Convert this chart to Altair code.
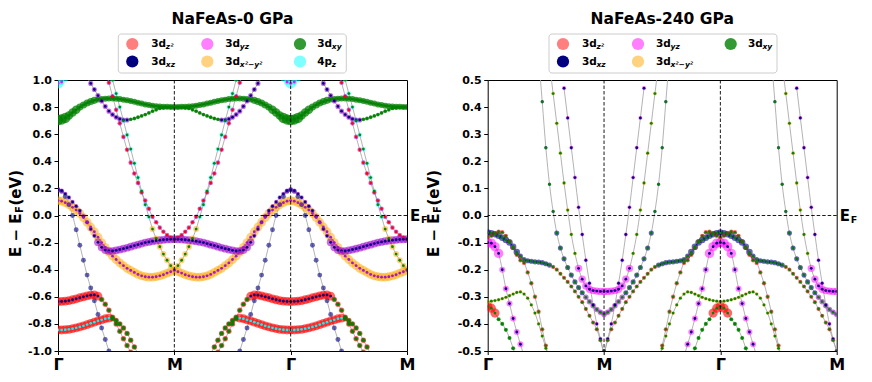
import altair as alt
import pandas as pd

FONT = "DejaVu Sans"
NK = 32          # k-steps per Γ→M segment
W, H = 349, 271  # plot area of each panel

# "xzyz" stands for points where d_xz and d_yz weights overlap equally (drawn purple)
ORB_COLOR = {"z2": "#ff0000", "xz": "#000080", "yz": "#ff00ff", "xzyz": "#a010d0",
             "x2y2": "#ffa500", "xy": "#008000", "pz": "#00ffff"}
ORB_ALPHA = {"z2": 0.6, "xz": 0.6, "yz": 0.5, "xzyz": 0.6, "x2y2": 0.5, "xy": 0.75, "pz": 0.5}
LEG_COLOR = {"z2": "#ff7f7f", "xz": "#000080", "yz": "#ff7fff",
             "x2y2": "#ffd27f", "xy": "#339933", "pz": "#7fffff"}
LEG_MAIN = {"z2": "3d", "xz": "3d", "yz": "3d", "x2y2": "3d", "xy": "3d", "pz": "4p"}
LEG_SUB = {"z2": "z²", "xz": "xz", "yz": "yz", "x2y2": "x²−y²", "xy": "xy", "pz": "z"}

# ---------------- NaFeAs 0 GPa : E(k) on Γ→M, (start index, energies) -------------
L_BANDS = {
    "xy_top": (0, [.705, .709, .72, .738, .76, .78, .80, .816, .83, .841, .85, .856, .86,
                   .862, .863, .863, .862, .859, .855, .85, .845, .839, .832, .826, .82,
                   .815, .81, .807, .805, .803, .802, .801, .80]),
    "xy_low": (7, [1.08, 1.02, .975, .93, .885, .845, .805, .77, .745, .725, .712, .705,
                   .705, .71, .716, .725, .735, .745, .757, .77, .78, .79, .795, .798,
                   .799, .80]),
    "p_yz": (13, [1.08, .98, .88, .78, .68, .58, .485, .39, .31, .24, .17, .11, .05, -.01,
                  -.05, -.09, -.12, -.145, -.162, -.175]),
    "p_pz": (14, [1.10, 1.0, .90, .80, .70, .595, .49, .385, .28, .18, .08, -.01, -.10,
                  -.17, -.23, -.285, -.33, -.37, -.40]),
    "steep": (0, [.19, .178, .14, .08, 0.0, -.105, -.22, -.33, -.44, -.535, -.63, -.73,
                  -.83, -.915, -1.0, -1.08]),
    "xzyz": (0, [.19, .183, .16, .133, .10, .068, .035, -.005, -.05, -.10, -.15, -.198,
                 -.235, -.255, -.262, -.262, -.257, -.251, -.245, -.238, -.23, -.222,
                 -.215, -.207, -.20, -.195, -.19, -.186, -.182, -.179, -.177, -.176, -.175]),
    "x2y2": (0, [.11, .106, .095, .08, .06, .04, .015, -.015, -.05, -.085, -.12, -.16, -.20,
                 -.235, -.27, -.30, -.325, -.35, -.37, -.39, -.405, -.42, -.435, -.445,
                 -.452, -.455, -.455, -.452, -.445, -.437, -.425, -.415, -.405]),
    "z2_up": (0, [-.635, -.634, -.632, -.628, -.622, -.615, -.607, -.60, -.593, -.588,
                  -.586, -.595, -.62, -.655, -.70, -.75, -.80, -.855, -.91, -.96, -1.01,
                  -1.06]),
    "z2_low": (0, [-.845, -.845, -.843, -.84, -.835, -.829, -.822, -.814, -.805, -.796,
                   -.787, -.778, -.77, -.762, -.757, -.762, -.775, -.80, -.83, -.87, -.92,
                   -.97, -1.02, -1.07]),
    "pz_top": (0, [.975, .985, 1.01, 1.05]),
}
# orbital weights drawn as circles: (from index, to index, orbital, weight)
L_HALO = {
    "xy_top": [(0, 2, "xy", .9), (3, 5, "xy", .6), (6, 10, "xy", .42), (11, 32, "xy", .3)],
    "xy_low": [(7, 19, "xzyz", .22), (20, 32, "xy", .12)],
    "p_yz": [(13, 32, "xzyz", .18)],
    "p_pz": [(14, 25, "pz", .18), (26, 32, "x2y2", .3)],
    "steep": [(0, 15, "xz", .2)],
    "xzyz": [(0, 10, "xzyz", .16), (11, 32, "xzyz", .5)],
    "x2y2": [(0, 32, "x2y2", .65)],
    "z2_up": [(0, 11, "z2", .65), (12, 21, "z2", .25), (12, 21, "xy", .14)],
    "z2_low": [(0, 14, "z2", .65), (15, 23, "z2", .25), (15, 23, "xy", .16)],
    "pz_top": [(0, 0, "pz", .9), (1, 3, "pz", .3)],
}
L_CENTER = {
    "xy_top": [(0, 32, "xy")], "xy_low": [(7, 19, "xz"), (20, 32, "xy")],
    "p_yz": [(13, 32, "z2")], "p_pz": [(14, 32, "xy")], "steep": [],
    "xzyz": [(0, 32, "xz")], "x2y2": [(0, 32, "xzyz")],
    "z2_up": [(0, 11, "xz"), (12, 21, "xy")],
    "z2_low": [(0, 14, "pz"), (15, 23, "xy")], "pz_top": [(0, 3, "yz")],
}

# ---------------- NaFeAs 240 GPa -------------
R_BANDS = {
    "b1": (14, [.585, .42, .25, .115, .015, -.065, -.12, -.16, -.192, -.22, -.245, -.266,
                -.285, -.302, -.318, -.333, -.347, -.357, -.365]),
    "b2": (17, [.56, .45, .34, .23, .12, .02, -.07, -.14, -.195, -.235, -.26, -.272, -.277,
                -.279, -.28, -.28]),
    "b3": (21, [.47, .36, .25, .14, .03, -.07, -.165, -.25, -.33, -.40, -.455, -.50]),
    "a1": (0, [-.063, -.065, -.069, -.075, -.082, -.09, -.10, -.115, -.135, -.15, -.163,
               -.167, -.169, -.171, -.172, -.174, -.178, -.183, -.19, -.20, -.215, -.23,
               -.245, -.262, -.28, -.30, -.32, -.345, -.37, -.395, -.42, -.46, -.50]),
    "a2": (0, [-.10, -.102, -.115, -.14, -.20, -.27, -.325, -.38, -.43, -.475, -.52]),
    "a3": (0, [-.08, -.075, -.066, -.06, -.062, -.075, -.095, -.12, -.145, -.165, -.175,
               -.21, -.25, -.30, -.355, -.42, -.48, -.54]),
    "a4": (0, [-.317, -.316, -.314, -.311, -.307, -.302, -.296, -.29, -.284, -.282, -.29,
               -.305, -.33, -.36, -.40, -.445, -.49, -.54]),
    "a5": (0, [-.335, -.342, -.36, -.383, -.40, -.422, -.452, -.49, -.53]),
}
R_HALO = {
    "b1": [(14, 18, "xz", .1), (19, 26, "xz", .22), (27, 32, "xzyz", .25)],
    "b2": [(17, 24, "x2y2", .14), (25, 32, "yz", .45)],
    "b3": [(21, 32, "yz", .14)],
    "a1": [(0, 8, "xz", .35), (9, 17, "xz", .22), (18, 32, "z2", .15)],
    "a2": [(0, 3, "yz", .75), (4, 10, "yz", .3)],
    "a3": [(0, 17, "z2", .16)],
    "a4": [(0, 17, "x2y2", .12)],
    "a5": [(0, 2, "z2", .7), (3, 8, "xy", .14)],
}
R_CENTER = {
    "b1": [(14, 32, "xy")], "b2": [(17, 24, "xy"), (25, 32, "xz")], "b3": [(21, 32, "xz")],
    "a1": [(0, 32, "xy")], "a2": [(0, 10, "xz")], "a3": [(0, 17, "xy")],
    "a4": [(0, 17, "xy")], "a5": [(0, 8, "xy")],
}

LEG_MX = [74.3, 149.3, 242.0]
LEG_TX = [93.3, 167.3, 259.3]
LEG_MY = [-36.0, -18.5]
LEG_TY = [-33.3, -15.5]


def build(bands, halos, centers):
    lines, hal, cen = [], [], []
    for name, (i0, energies) in bands.items():
        pts = {}
        for j, e in enumerate(energies):
            i = i0 + j
            k = i / NK
            for x in (k, 2 - k, 2 + k):   # Γ→M, M→Γ, Γ→M
                pts[round(x, 6)] = (e, i)
        piece, prev = 0, None
        for x in sorted(pts):
            if prev is not None and x - prev > 1.5 / NK:
                piece += 1
            prev = x
            e, i = pts[x]
            lines.append({"band": f"{name}_{piece}", "x": x, "E": e})
            for a, b, orb, w in halos[name]:
                if a <= i <= b:
                    hal.append({"x": x, "E": e, "w": w, "s": 120 * w,
                                "col": ORB_COLOR[orb], "a": ORB_ALPHA[orb]})
            for a, b, orb in centers[name]:
                if a <= i <= b:
                    cen.append({"x": x, "E": e, "col": ORB_COLOR[orb]})
    return pd.DataFrame(lines), pd.DataFrame(hal), pd.DataFrame(cen)


def panel(title, bands, halos, centers, ydom, yvals, ytitle_x, orbs, shift):
    lines, hal, cen = build(bands, halos, centers)
    one = pd.DataFrame({"a": [0]})
    xs = alt.Scale(domain=[0, 3], nice=False, zero=False)
    ys = alt.Scale(domain=ydom, nice=False, zero=False)
    X = alt.X("x:Q", scale=xs, title=None,
              axis=alt.Axis(values=[0, 1, 2, 3], labelExpr="['Γ','M','Γ','M'][datum.value]",
                            labelFontSize=16, tickSize=3.5, labelPadding=2, labelFlush=False))
    Y = alt.Y("E:Q", scale=ys, title=None,
              axis=alt.Axis(values=yvals, labelExpr="replace(format(datum.value, '.1f'), '−', '-')",
                            labelFontSize=11, tickSize=4, labelPadding=2.5))

    layers = [
        alt.Chart(lines).mark_line(color="#a0a0a0", strokeWidth=0.8, interpolate="monotone",
                                   clip=True).encode(x=X, y=Y, detail="band:N"),
        alt.Chart(hal).mark_circle(clip=True).encode(
            x=X, y=Y, color=alt.Color("col:N", scale=None),
            opacity=alt.Opacity("a:Q", scale=None), size=alt.Size("s:Q", scale=None),
            order=alt.Order("w:Q", sort="descending")),
        alt.Chart(cen).mark_circle(clip=True, size=8, opacity=0.95).encode(
            x=X, y=Y, color=alt.Color("col:N", scale=None)),
        alt.Chart(pd.DataFrame({"x": [1, 2]})).mark_rule(
            color="black", strokeDash=[3.5, 2], strokeWidth=0.9).encode(x=X),
        alt.Chart(pd.DataFrame({"E": [0]})).mark_rule(
            color="black", strokeDash=[3.5, 2], strokeWidth=0.9).encode(y=Y),
        alt.Chart(pd.DataFrame({"E": [0]})).mark_text(
            text="E", align="left", baseline="alphabetic", dy=5.5, fontSize=15,
            fontWeight="bold", font=FONT, color="black").encode(x=alt.value(W + 3), y=Y),
        alt.Chart(pd.DataFrame({"E": [0]})).mark_text(
            text="F", align="left", baseline="alphabetic", dy=7.5, fontSize=9.5,
            fontWeight="bold", font=FONT, color="black").encode(x=alt.value(W + 14), y=Y),
        alt.Chart(one).mark_text(
            text=title, align="center", baseline="alphabetic", fontSize=15.5,
            fontWeight="bold", font=FONT, color="black").encode(
            x=alt.value(W / 2), y=alt.value(-56.5)),
        alt.Chart(one).mark_text(
            text="E − E", align="right", baseline="middle", angle=270, fontSize=15,
            fontWeight="bold", font=FONT, color="black").encode(
            x=alt.value(ytitle_x), y=alt.value(133.5)),
        alt.Chart(one).mark_text(
            text="F", align="left", baseline="middle", angle=270, dx=0.5, dy=4, fontSize=10,
            fontWeight="bold", font=FONT, color="black").encode(
            x=alt.value(ytitle_x), y=alt.value(133.5)),
        alt.Chart(one).mark_text(
            text="(eV)", align="left", baseline="middle", angle=270, dx=8, fontSize=15,
            fontWeight="bold", font=FONT, color="black").encode(
            x=alt.value(ytitle_x), y=alt.value(133.5)),
    ]

    leg = pd.DataFrame([{"mx": LEG_MX[n // 2] + shift, "my": LEG_MY[n % 2],
                         "tx": LEG_TX[n // 2] + shift, "ty": LEG_TY[n % 2],
                         "main": LEG_MAIN[o], "sub": LEG_SUB[o], "col": LEG_COLOR[o]}
                        for n, o in enumerate(orbs)])
    layers += [
        alt.Chart(one).mark_rect(fill="white", stroke="#cccccc", strokeWidth=1,
                                 cornerRadius=3).encode(
            x=alt.value(60.3 + shift), x2=alt.value(288.3 + shift),
            y=alt.value(-46), y2=alt.value(-7)),
        alt.Chart(leg).mark_circle(size=150, opacity=1).encode(
            x=alt.X("mx:Q", scale=None), y=alt.Y("my:Q", scale=None),
            color=alt.Color("col:N", scale=None)),
        alt.Chart(leg).mark_text(align="left", baseline="alphabetic", fontSize=10.5,
                                 fontWeight="bold", font=FONT, color="black").encode(
            x=alt.X("tx:Q", scale=None), y=alt.Y("ty:Q", scale=None), text="main:N"),
        alt.Chart(leg).mark_text(align="left", baseline="alphabetic", fontSize=7.5,
                                 fontWeight="bold", fontStyle="italic", dx=14.5, dy=2.5,
                                 font=FONT, color="black").encode(
            x=alt.X("tx:Q", scale=None), y=alt.Y("ty:Q", scale=None), text="sub:N"),
    ]
    return alt.layer(*layers).properties(width=W, height=H)


left = panel("NaFeAs-0 GPa", L_BANDS, L_HALO, L_CENTER, [-1.0, 1.0],
             [round(-1.0 + 0.2 * i, 1) for i in range(11)], -42.2,
             ["z2", "xz", "yz", "x2y2", "xy", "pz"], 0.0)
right = panel("NaFeAs-240 GPa", R_BANDS, R_HALO, R_CENTER, [-0.5, 0.5],
              [round(-0.5 + 0.1 * i, 1) for i in range(11)], -54.2,
              ["z2", "xz", "yz", "x2y2", "xy"], 1.0)

chart = alt.hconcat(left, right, spacing=80.7, bounds="flush",
                    padding={"left": 0, "top": 3, "right": 0, "bottom": 0}).configure_view(
    stroke="black", strokeWidth=1).configure_axis(
    labelFont=FONT, labelFontWeight="bold", labelColor="black", tickColor="black",
    domain=False, grid=False)

chart.save("out.html", embed_options={"renderer": "svg", "actions": False})
